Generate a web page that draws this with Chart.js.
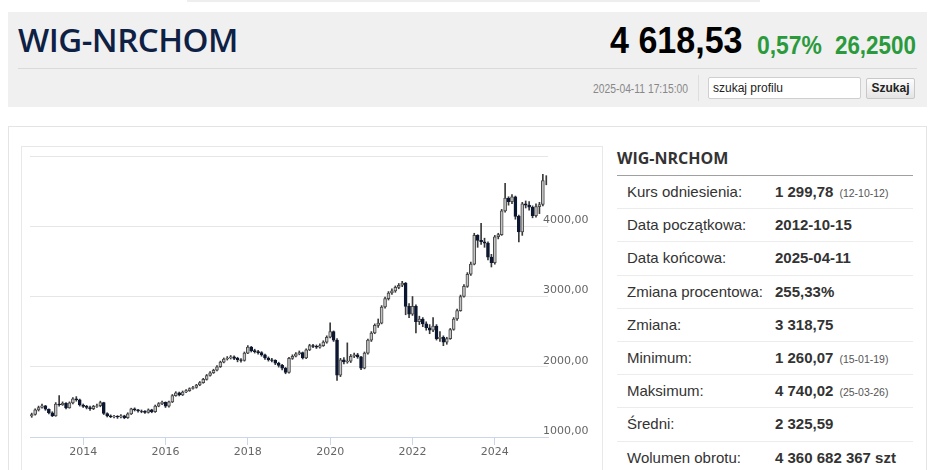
<!DOCTYPE html>
<html>
<head>
<meta charset="utf-8">
<script src="https://cdn.jsdelivr.net/npm/chart.js@4/dist/chart.umd.min.js"></script>
<style>
  body { margin: 0; width: 948px; height: 470px; overflow: hidden; position: relative; background: #fff; font-family: "Liberation Sans", Arial, sans-serif; color: #333; }
  .abs { position: absolute; white-space: nowrap; }
  #topline { left: 187px; top: 0; width: 573px; height: 2px; background: #eee; }
  #head { left: 8px; top: 12px; width: 919px; height: 95px; background: #f0f0f0; }
  #title { left: 10px; top: 5px; font: 600 33px "Open Sans", sans-serif; color: #0e2144; letter-spacing: -0.5px; }
  #price { left: 602px; top: 8px; font: bold 37px "Liberation Sans", sans-serif; color: #000; transform: scaleX(0.92); transform-origin: left top; }
  #pct { left: 749px; top: 18px; font: bold 26px "Liberation Sans", sans-serif; color: #2a9a3c; transform: scaleX(0.88); transform-origin: left top; }
  #abs { left: 827px; top: 18px; font: bold 26px "Liberation Sans", sans-serif; color: #2a9a3c; transform: scaleX(0.86); transform-origin: left top; }
  #hline { left: 10px; top: 56px; width: 899px; height: 1px; background: #dadada; }
  #stamp { left: 585px; top: 70px; font: 12px "Liberation Sans", sans-serif; color: #888; transform: scaleX(0.86); transform-origin: left top; }
  #vsep { left: 690px; top: 63px; width: 1px; height: 26px; background: #dedede; }
  #search { left: 700px; top: 65px; background: #fff; border: 1px solid #cfcfcf; border-radius: 2px; font: 12px "Liberation Sans", sans-serif; line-height: 20px; padding-left: 4px; box-sizing: border-box; width: 153px; height: 22px; color: #222; }
  #btn { left: 858px; top: 66px; width: 49px; height: 21px; box-sizing: border-box; border: 1px solid #c8c8c8; border-radius: 2px; background: linear-gradient(#fdfdfd, #e4e4e4); font: bold 12px "Liberation Sans", sans-serif; line-height: 19px; text-align: center; color: #222; }
  #panel { left: 8px; top: 126px; width: 919px; height: 360px; border: 1px solid #e4e4e4; box-sizing: border-box; }
  #chartbox { left: 21px; top: 146px; width: 582px; height: 340px; border: 1px solid #e8e8e8; box-sizing: border-box; }
  #chartwrap { left: 22px; top: 147px; width: 576px; height: 323px; }
  #info { left: 617px; top: 146px; width: 296px; }
  #info h2 { margin: 0; height: 30px; font: bold 16px "Open Sans", sans-serif; color: #333; border-bottom: 1px solid #a0a0a0; line-height: 24px; box-sizing: border-box; }
  .row { height: 33.2px; box-sizing: border-box; border-bottom: 1px solid #ececec; font-size: 15px; line-height: 32px; position: relative; }
  .row .l { position: absolute; left: 10px; }
  .row .v { position: absolute; left: 158px; font-weight: bold; }
  .row .v small { font-weight: normal; font-size: 10.5px; color: #555; margin-left: 6px; }
</style>
</head>
<body>
<div class="abs" id="topline"></div>
<div class="abs" id="head">
  <div class="abs" id="title">WIG-NRCHOM</div>
  <div class="abs" id="price">4 618,53</div>
  <div class="abs" id="pct">0,57%</div>
  <div class="abs" id="abs">26,2500</div>
  <div class="abs" id="hline"></div>
  <div class="abs" id="stamp">2025-04-11 17:15:00</div>
  <div class="abs" id="vsep"></div>
  <div class="abs" id="search">szukaj profilu</div>
  <div class="abs" id="btn">Szukaj</div>
</div>
<div class="abs" id="panel"></div>
<div class="abs" id="chartbox"></div>
<div class="abs" id="chartwrap"><canvas id="chart" width="576" height="323"></canvas></div>
<div class="abs" id="info">
  <h2>WIG-NRCHOM</h2>
  <div class="row"><span class="l">Kurs odniesienia:</span><span class="v">1 299,78<small>(12-10-12)</small></span></div>
  <div class="row"><span class="l">Data początkowa:</span><span class="v">2012-10-15</span></div>
  <div class="row"><span class="l">Data końcowa:</span><span class="v">2025-04-11</span></div>
  <div class="row"><span class="l">Zmiana procentowa:</span><span class="v">255,33%</span></div>
  <div class="row"><span class="l">Zmiana:</span><span class="v">3 318,75</span></div>
  <div class="row"><span class="l">Minimum:</span><span class="v">1 260,07<small>(15-01-19)</small></span></div>
  <div class="row"><span class="l">Maksimum:</span><span class="v">4 740,02<small>(25-03-26)</small></span></div>
  <div class="row"><span class="l">Średni:</span><span class="v">2 325,59</span></div>
  <div class="row"><span class="l">Wolumen obrotu:</span><span class="v">4 360 682 367 szt</span></div>
</div>
<script>
// monthly candles, first one = 2012-10
const startYear = 2012, startMonth = 10;

const opens = [
  1300, 1320, 1385, 1420, 1445, 1395, 1345, 1300, 1470, 1460, 1480, 1415, 1485, 1545, 1530,
  1455, 1435, 1420, 1405, 1435, 1445, 1490, 1335, 1300, 1290, 1295, 1285,
  1300, 1275, 1330, 1400, 1385, 1370, 1365, 1350, 1385, 1360, 1440, 1475,
  1495, 1440, 1500, 1590, 1630, 1600, 1640, 1660, 1690, 1705, 1740, 1775,
  1820, 1875, 1915, 1950, 2000, 2065, 2110, 2125, 2140, 2120, 2100, 2090,
  2195, 2280, 2230, 2215, 2200, 2170, 2125, 2100, 2090, 2050, 2020, 1980,
  1920, 2120, 2150, 2185, 2200, 2125, 2240, 2300, 2290, 2280, 2300, 2350,
  2420, 2500, 2380, 1880, 2100, 2070, 2080, 2150, 2170, 2140, 1980, 2195,
  2380, 2480, 2590, 2620, 2850, 2970, 3050, 3080, 3130, 3160, 3190, 2860,
  2750, 2860, 2640, 2680, 2610, 2555, 2520, 2580, 2400, 2420, 2350, 2400,
  2530, 2680, 2800, 3000, 3144, 3317, 3460, 3870, 3800, 3780, 3760, 3560,
  3480, 3850, 3880, 4220, 4400, 4350, 4420, 4140, 3920, 4320, 4300, 4270,
  4150, 4280, 4310
];
const highs = [
  1340, 1400, 1440, 1470, 1450, 1400, 1360, 1490, 1590, 1500, 1490, 1500, 1560, 1575, 1540,
  1470, 1450, 1440, 1450, 1470, 1510, 1495, 1345, 1315, 1310, 1305, 1320,
  1310, 1345, 1410, 1415, 1395, 1385, 1375, 1400, 1395, 1455, 1490, 1510,
  1500, 1510, 1605, 1645, 1640, 1655, 1675, 1700, 1720, 1750, 1790, 1835,
  1890, 1930, 1965, 2015, 2080, 2125, 2145, 2160, 2155, 2135, 2115, 2210,
  2300, 2290, 2250, 2235, 2215, 2180, 2140, 2120, 2100, 2065, 2035, 1990,
  2135, 2170, 2200, 2225, 2210, 2255, 2320, 2320, 2310, 2325, 2370, 2440,
  2625, 2510, 2400, 2120, 2130, 2340, 2175, 2195, 2190, 2150, 2210, 2395,
  2500, 2610, 2680, 2870, 2990, 3070, 3110, 3150, 3185, 3216, 3200, 2900,
  3000, 2880, 2720, 2700, 2640, 2600, 2700, 2600, 2500, 2440, 2420, 2545,
  2700, 2820, 3020, 3170, 3340, 3490, 3900, 3880, 4040, 3830, 3780, 3600,
  3870, 3900, 4240, 4612, 4420, 4450, 4430, 4160, 4340, 4360, 4350, 4290,
  4320, 4340, 4740, 4720
];
const lows = [
  1280, 1310, 1370, 1410, 1380, 1330, 1290, 1295, 1440, 1450, 1400, 1410, 1470, 1510, 1440,
  1420, 1400, 1380, 1390, 1420, 1430, 1320, 1285, 1275, 1270, 1265, 1270,
  1260, 1265, 1320, 1370, 1355, 1345, 1335, 1340, 1345, 1350, 1430, 1460,
  1420, 1425, 1490, 1580, 1585, 1590, 1630, 1650, 1680, 1695, 1730, 1765,
  1810, 1865, 1905, 1940, 1990, 2055, 2095, 2110, 2100, 2070, 2065, 2080,
  2185, 2210, 2195, 2180, 2150, 2105, 2080, 2070, 2030, 1995, 1955, 1900,
  1910, 2105, 2140, 2170, 2110, 2115, 2230, 2270, 2260, 2265, 2290, 2335,
  2410, 2360, 1806, 1860, 2040, 2050, 2060, 2130, 2120, 1960, 1970, 2180,
  2360, 2470, 2560, 2610, 2835, 2950, 3030, 3060, 3110, 3140, 2740, 2700,
  2730, 2480, 2600, 2570, 2520, 2470, 2500, 2380, 2360, 2300, 2320, 2390,
  2520, 2660, 2790, 2990, 3130, 3300, 3450, 3700, 3740, 3700, 3520, 3420,
  3460, 3820, 3870, 4200, 4300, 4320, 4100, 3777, 3870, 4260, 4230, 4120,
  4130, 4180, 4290, 4590
];
const closes = [
  1320, 1385, 1420, 1445, 1395, 1345, 1300, 1470, 1460, 1480, 1415, 1485, 1545, 1530, 1455,
  1435, 1420, 1405, 1435, 1445, 1490, 1335, 1300, 1290, 1295, 1285, 1300,
  1275, 1330, 1400, 1385, 1370, 1365, 1350, 1385, 1360, 1440, 1475, 1495,
  1440, 1500, 1590, 1630, 1600, 1640, 1660, 1690, 1705, 1740, 1775, 1820,
  1875, 1915, 1950, 2000, 2065, 2110, 2125, 2140, 2120, 2100, 2090, 2195,
  2280, 2230, 2215, 2200, 2170, 2125, 2100, 2090, 2050, 2020, 1980, 1920,
  2120, 2150, 2185, 2200, 2125, 2240, 2300, 2290, 2280, 2300, 2350, 2420,
  2500, 2380, 1880, 2100, 2070, 2080, 2150, 2170, 2140, 1980, 2195, 2380,
  2480, 2590, 2620, 2850, 2970, 3050, 3080, 3130, 3160, 3190, 2860, 2750,
  2860, 2640, 2680, 2610, 2555, 2520, 2580, 2400, 2420, 2350, 2400, 2530,
  2680, 2800, 3000, 3144, 3317, 3460, 3870, 3800, 3780, 3760, 3560, 3480,
  3850, 3880, 4220, 4400, 4350, 4420, 4140, 3920, 4320, 4300, 4270, 4150,
  4280, 4310, 4650, 4618.53
];
const yTicks = [1000, 2000, 3000, 4000, 5000];

// month labels for the category axis
const months = [];
for (let i = 0; i < closes.length; i++) {
  const m = startMonth - 1 + i;
  months.push({ year: startYear + Math.floor(m / 12), month: (m % 12) + 1 });
}
const labels = months.map(d => d.year + '-' + String(d.month).padStart(2, '0'));
const isYearTick = i => months[i] && months[i].month === 1 && months[i].year % 2 === 0;

const upFill = '#c4c4c4', upLine = '#4a4a4a';
const downFill = '#0c1730';
const isUp = closes.map((c, i) => c >= opens[i]);

// y labels sit just above their grid line and start a bit inside the plot
const yLabels = {
  id: 'yLabels',
  afterDraw(chart) {
    const { ctx, chartArea, scales } = chart;
    ctx.save();
    ctx.font = '11px "DejaVu Sans"';
    ctx.fillStyle = '#666';
    ctx.textAlign = 'left';
    ctx.textBaseline = 'middle';
    yTicks.forEach(v => {
      if (v === 5000) return;
      ctx.fillText(v + ',00', chartArea.right - 5, scales.y.getPixelForValue(v) - 6);
    });
    ctx.restore();
  }
};

new Chart(document.getElementById('chart'), {
  type: 'bar',
  data: {
    labels: labels,
    datasets: [
      {
        label: 'body',
        data: opens.map((o, i) => [o, closes[i]]),
        backgroundColor: isUp.map(u => u ? upFill : downFill),
        borderColor: isUp.map(u => u ? upLine : downFill),
        borderWidth: 1,
        borderSkipped: false,
        barThickness: 3,
        grouped: false
      },
      {
        label: 'wick',
        data: lows.map((l, i) => [l, highs[i]]),
        backgroundColor: '#3a3a3a',
        barThickness: 1,
        grouped: false
      }
    ]
  },
  options: {
    responsive: false,
    animation: false,
    layout: { padding: { left: 8, top: 9, right: 0, bottom: 0 } },
    plugins: { legend: { display: false }, tooltip: { enabled: false } },
    scales: {
      x: {
        offset: true,
        grid: {
          offset: false,
          drawOnChartArea: false,
          drawTicks: true,
          tickLength: 8,
          color: ctx => isYearTick(ctx.index) ? '#ccd6eb' : 'rgba(0,0,0,0)'
        },
        border: { color: '#ccd6eb' },
        ticks: {
          autoSkip: false,
          maxRotation: 0,
          padding: 1,
          color: '#666',
          font: { family: 'DejaVu Sans', size: 11 },
          callback: (v, i) => isYearTick(i) ? String(months[i].year) : ''
        },
        afterFit: s => { s.height = 33; }
      },
      y: {
        position: 'right',
        min: yTicks[0],
        max: yTicks[yTicks.length - 1],
        afterBuildTicks: s => { s.ticks = yTicks.map(v => ({ value: v })); },
        grid: { color: '#e6e6e6', drawTicks: false },
        border: { display: false },
        ticks: { display: false },
        afterFit: s => { s.width = 50; }
      }
    }
  },
  plugins: [yLabels]
});
</script>
</body>
</html>
